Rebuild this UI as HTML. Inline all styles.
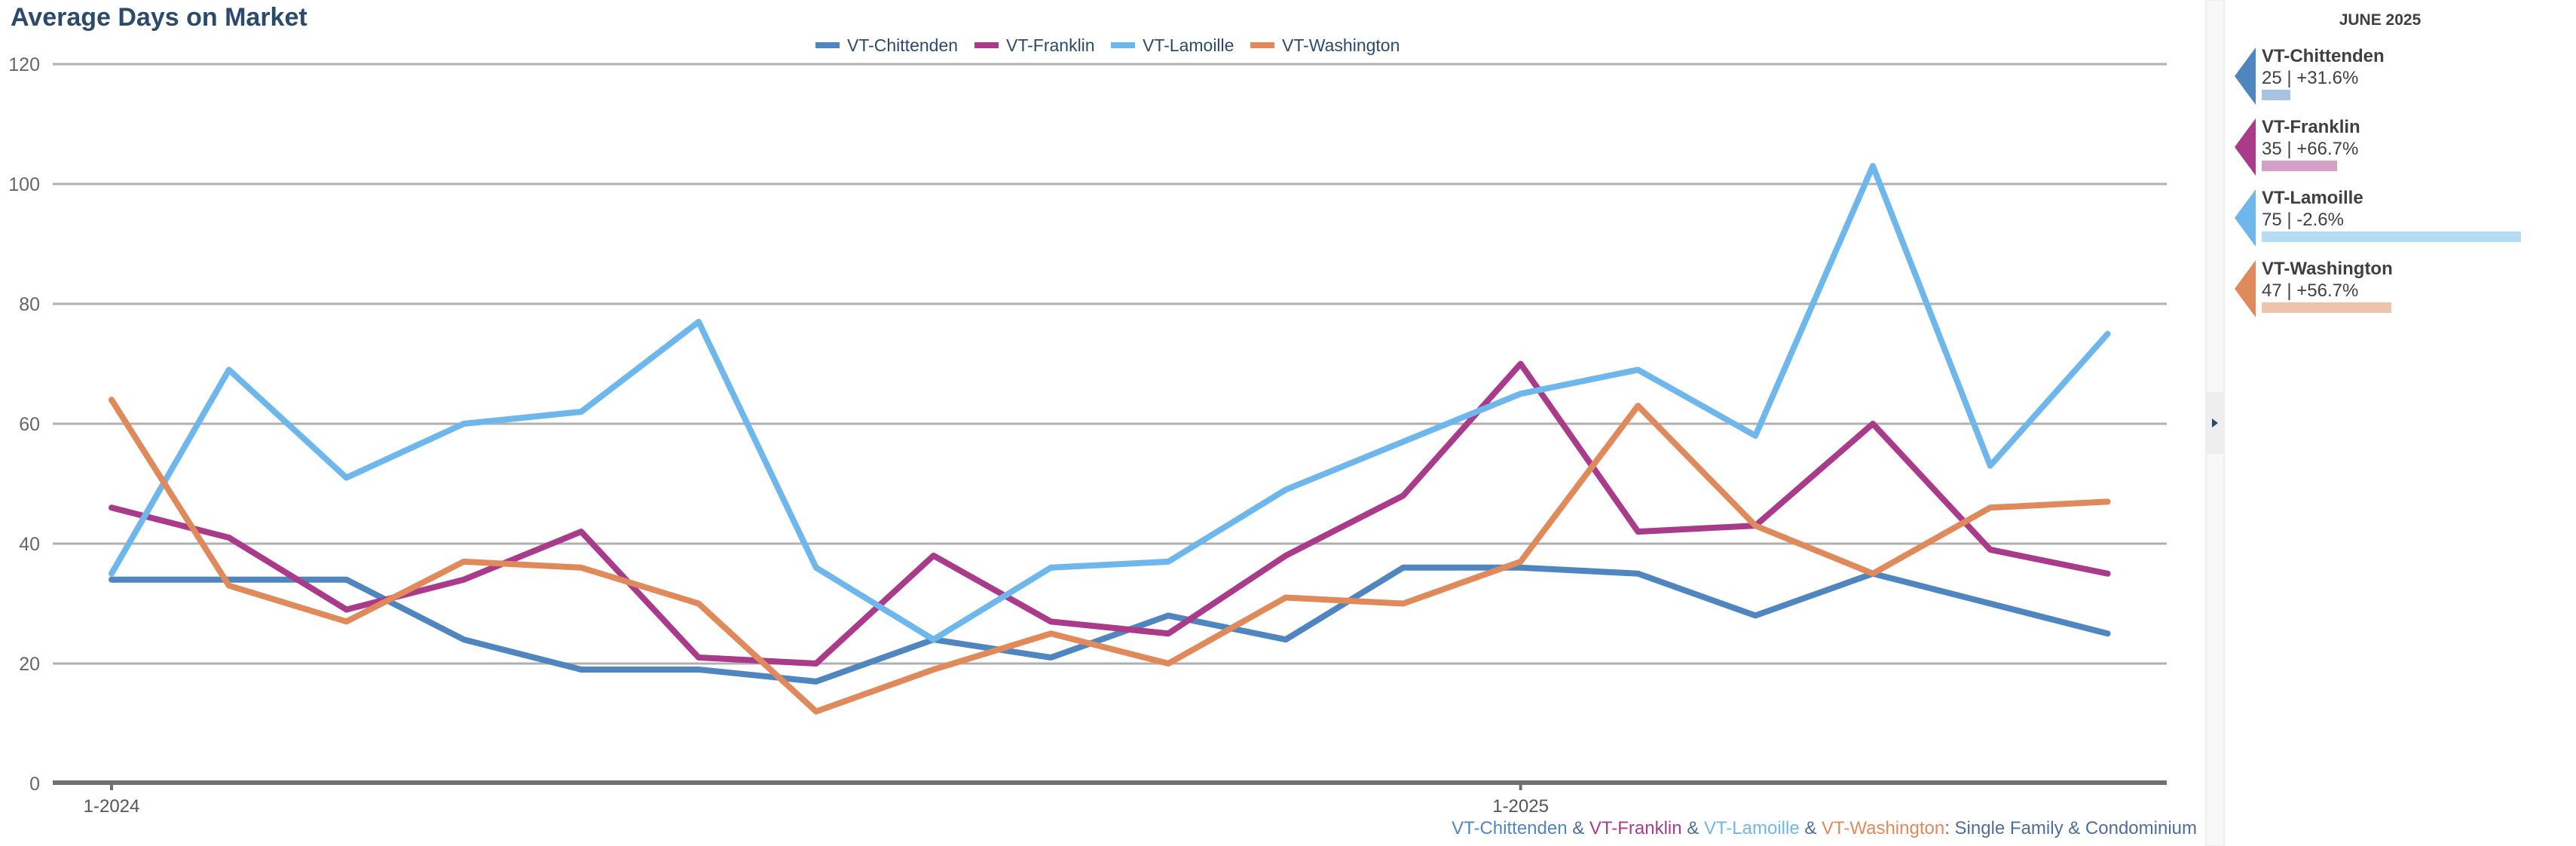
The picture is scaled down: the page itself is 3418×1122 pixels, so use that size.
<!DOCTYPE html>
<html><head><meta charset="utf-8"><style>
body{margin:0;background:#fff;width:3418px;height:1122px;overflow:hidden;font-family:"Liberation Sans",Arial,sans-serif;}
svg{position:absolute;left:0;top:0}
</style></head><body>
<svg id="chart" width="3418" height="1122">
<text x="14" y="34" font-size="34" font-weight="bold" fill="#2c4a6b">Average Days on Market</text>
<g id="grid"></g>
<g id="legend"></g>
<g id="lines"></g>
<g id="xaxis"></g>
<text x="2915" y="1106" font-size="24" text-anchor="end"><tspan fill="#4f86c0">VT-Chittenden</tspan><tspan fill="#4e6e99"> &amp; </tspan><tspan fill="#a93b8a">VT-Franklin</tspan><tspan fill="#4e6e99"> &amp; </tspan><tspan fill="#6eb7ec">VT-Lamoille</tspan><tspan fill="#4e6e99"> &amp; </tspan><tspan fill="#e0895a">VT-Washington</tspan><tspan fill="#4e6e99">: Single Family &amp; Condominium</tspan></text>
<rect x="2927" y="0" width="24" height="1122" fill="#f8f8f8" stroke="#eeeeee" stroke-width="2"/>
<rect x="2928" y="520" width="22" height="82" fill="#eeeeee"/>
<path d="M2935 555 L2943 561 L2935 567 Z" fill="#2c4a6b"/>
<text x="3158" y="33" font-size="21" font-weight="bold" fill="#404040" text-anchor="middle">JUNE 2025</text>
<g id="panel"></g>
</svg>
<script>
const months = ["1-2024","2-2024","3-2024","4-2024","5-2024","6-2024","7-2024","8-2024","9-2024","10-2024","11-2024","12-2024","1-2025","2-2025","3-2025","4-2025","5-2025","6-2025"];
const chittenden = [34,34,34,24,19,19,17,24,21,28,24,36,36,35,28,35,30,25];
const franklin = [46,41,29,34,42,21,20,38,27,25,38,48,70,42,43,60,39,35];
const lamoille = [35,69,51,60,62,77,36,24,36,37,49,57,65,69,58,103,53,75];
const washington = [64,33,27,37,36,30,12,19,25,20,31,30,37,63,43,35,46,47];
const yTicks = [0,20,40,60,80,100,120];
const xTickLabels = ["1-2024","1-2025"];
const seriesNames = ["VT-Chittenden","VT-Franklin","VT-Lamoille","VT-Washington"];
const panelValues = ["25 | +31.6%","35 | +66.7%","75 | -2.6%","47 | +56.7%"];
const panelBarValues = [38,100,344,172];

const colors = ["#4f86c0","#a93b8a","#6eb7ec","#e0895a"];
const lightColors = ["#a9c3e2","#d6a0c6","#b5dcf5","#efc4ad"];
const NS = "http://www.w3.org/2000/svg";
const X0 = 148, DX = 155.8, Y0 = 1039, KY = 7.95, PL = 70, PR = 2875;
const x = i => X0 + i*DX;
const y = v => Y0 - v*KY;
function mk(tag, attrs, parent){const e=document.createElementNS(NS,tag);for(const k in attrs)e.setAttribute(k,attrs[k]);parent.appendChild(e);return e;}

const grid = document.getElementById('grid');
yTicks.forEach(t=>{
  if(t>0){
    const l = mk('line',{x1:PL,x2:PR,y1:y(t),y2:y(t),stroke:'#b0b0b0','stroke-width':3},grid);
    
    
  }
  const tx = mk('text',{x:53,y:y(t)+9,'font-size':25,fill:'#666','text-anchor':'end'},grid);
  tx.textContent = t;
  
  
});

const lines = document.getElementById('lines');
[chittenden,franklin,lamoille,washington].forEach((s,k)=>{
  const p = mk('polyline',{points:s.map((v,i)=>x(i)+','+y(v)).join(' '),fill:'none',stroke:colors[k],'stroke-width':8,'stroke-linejoin':'round','stroke-linecap':'round'},lines);
  
  
});

const xa = document.getElementById('xaxis');
const ax = mk('line',{x1:PL,x2:PR,y1:1038,y2:1038,stroke:'#707070','stroke-width':6},xa);


xTickLabels.forEach(lbl=>{
  const i = months.indexOf(lbl);
  const tk = mk('line',{x1:x(i),x2:x(i),y1:1038,y2:1048,stroke:'#707070','stroke-width':4},xa);
  
  
  const t = mk('text',{x:x(i),y:1077,'font-size':24,fill:'#555','text-anchor':'middle'},xa);
  t.textContent = lbl;
  
  
});

const lg = document.getElementById('legend');
const legendX = [1082,1293,1474,1659];
seriesNames.forEach((n,k)=>{
  const r = mk('rect',{x:legendX[k],y:56,width:32,height:8,fill:colors[k]},lg);
  
  
  const t = mk('text',{x:legendX[k]+42,y:68,'font-size':23,fill:'#2c4a6b'},lg);
  t.textContent = n;
  
  
});

const pn = document.getElementById('panel');
seriesNames.forEach((n,k)=>{
  const oy = k*94;
  const a = mk('path',{d:`M2993 ${63+oy} L2965 ${101+oy} L2993 ${139+oy} Z`,fill:colors[k]},pn);
  
  
  const t1 = mk('text',{x:3001,y:82+oy,'font-size':24,'font-weight':'bold',fill:'#404040'},pn);
  t1.textContent = n;
  
  
  const t2 = mk('text',{x:3001,y:111+oy,'font-size':24,fill:'#404040'},pn);
  t2.textContent = panelValues[k];
  
  
  const b = mk('rect',{x:3001,y:119+oy,width:panelBarValues[k],height:14,fill:lightColors[k]},pn);
  
  
});
</script>
</body></html>
